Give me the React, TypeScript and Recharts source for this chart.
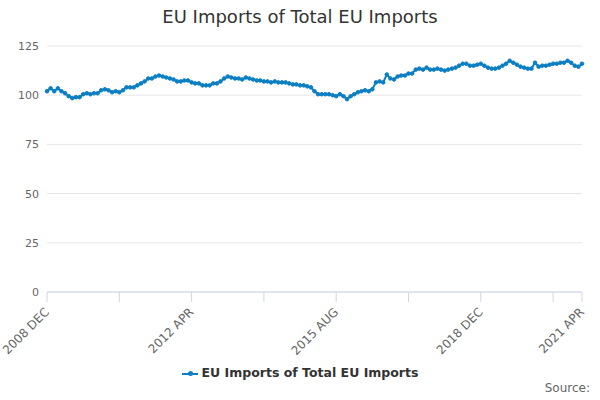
import { LineChart, Line, XAxis, YAxis, CartesianGrid } from 'recharts'

const MONTHS = ['JAN', 'FEB', 'MAR', 'APR', 'MAY', 'JUN', 'JUL', 'AUG', 'SEP', 'OCT', 'NOV', 'DEC']

// Dec 2008 .. Apr 2021, monthly
const categories: string[] = []
for (let y = 2008, m = 11; y < 2021 || m <= 3; m++) {
  if (m === 12) { m = 0; y++ }
  categories.push(`${y} ${MONTHS[m]}`)
  if (y === 2021 && m === 3) break
}

const values = [
  102, 103.5, 102, 103.5, 102, 101, 99.5, 98.5, 99, 99,
  100.5, 101, 100.5, 101, 101, 102.5, 103, 102.5, 101.5, 102,
  101.5, 102.5, 104, 104, 104, 105, 106, 107, 108.5, 108.5,
  109.5, 110, 109.5, 109, 108.5, 108, 107, 107, 107.5, 107.5,
  106.5, 106, 106, 105, 105, 105, 106, 106, 107, 108.5,
  109.5, 109, 108.5, 108.5, 108, 109, 108.5, 108, 107.5, 107.5,
  107, 107, 106.5, 107, 106.5, 106.5, 106.5, 106, 105.5, 105.5,
  105, 105, 104.5, 104, 102, 100.5, 100.5, 100.5, 100.5, 100,
  99.5, 100.5, 99.5, 98, 99.5, 100.5, 101.5, 102, 102.5, 102,
  103, 106.5, 107, 106.5, 110.5, 108.5, 108, 109.5, 110, 110,
  111, 111, 113, 113.5, 113, 114, 113, 113, 113.5, 113,
  112.5, 113, 113.5, 114, 115, 116, 116, 115, 115, 115.5,
  116, 115, 114, 113.5, 113.5, 114, 115, 116, 117.5, 116.5,
  115.5, 114.5, 114, 113.5, 113.5, 116.5, 114.5, 115, 115, 115.5,
  116, 116, 116.5, 116.5, 117.5, 116.5, 115, 114.5, 116,
]

const yTicks = [0, 25, 50, 75, 100, 125]
const tickIdx = [0, 20, 40, 60, 80, 100, 120, 140, 148]
const labelIdx = [0, 40, 80, 120, 148]
const labels = labelIdx.map(i => categories[i])

const data = categories.map((c, i) => ({ month: c, value: values[i] }))

const font = '"DejaVu Sans", Verdana, sans-serif'

function XTick(props: any) {
  const { x, y, payload } = props
  if (!labels.includes(payload.value)) return null
  return (
    <text x={x} y={y + 6} transform={`rotate(-45 ${x} ${y + 6})`} textAnchor="end"
      fontSize={12} fill="#666" fontFamily={font} dy={4}>
      {payload.value}
    </text>
  )
}

export default function App() {
  return (
    <div style={{ position: 'absolute', left: 0, top: 0, width: 600, height: 400, background: '#fff', fontFamily: font }}>
      <div style={{ position: 'absolute', top: 6, width: 600, textAlign: 'center', fontSize: 18, color: '#333' }}>
        EU Imports of Total EU Imports
      </div>
      <LineChart width={600} height={400} data={data} margin={{ top: 46, right: 18, left: 0, bottom: 0 }}>
        <CartesianGrid vertical={false} stroke="#e6e6e6" />
        <XAxis dataKey="month" ticks={tickIdx.map(i => categories[i])} interval={0} height={108}
          tick={<XTick />} tickLine={{ stroke: '#ccd6eb' }} axisLine={{ stroke: '#ccd6eb' }} tickSize={10} />
        <YAxis domain={[0, 125]} ticks={yTicks} width={47} axisLine={false} tickLine={false}
          tick={{ fontSize: 11, fill: '#666', fontFamily: font }} />
        <Line dataKey="value" stroke="#0a7fc4" strokeWidth={2} isAnimationActive={false}
          dot={{ r: 1.8, fill: '#0a7fc4', stroke: '#0a7fc4', strokeWidth: 1 }} />
      </LineChart>
      <div style={{ position: 'absolute', top: 365, width: 600, textAlign: 'center', fontSize: 12.5, fontWeight: 'bold', color: '#333' }}>
        <span style={{ display: 'inline-block', width: 16, height: 2, background: '#0a7fc4', verticalAlign: 'middle', marginRight: 4, position: 'relative' }}>
          <span style={{ position: 'absolute', left: 6, top: -2, width: 5, height: 5, borderRadius: 3, background: '#0a7fc4' }} />
        </span>
        EU Imports of Total EU Imports
      </div>
      <div style={{ position: 'absolute', top: 381, right: 10, fontSize: 12, color: '#666' }}>Source:</div>
    </div>
  )
}
